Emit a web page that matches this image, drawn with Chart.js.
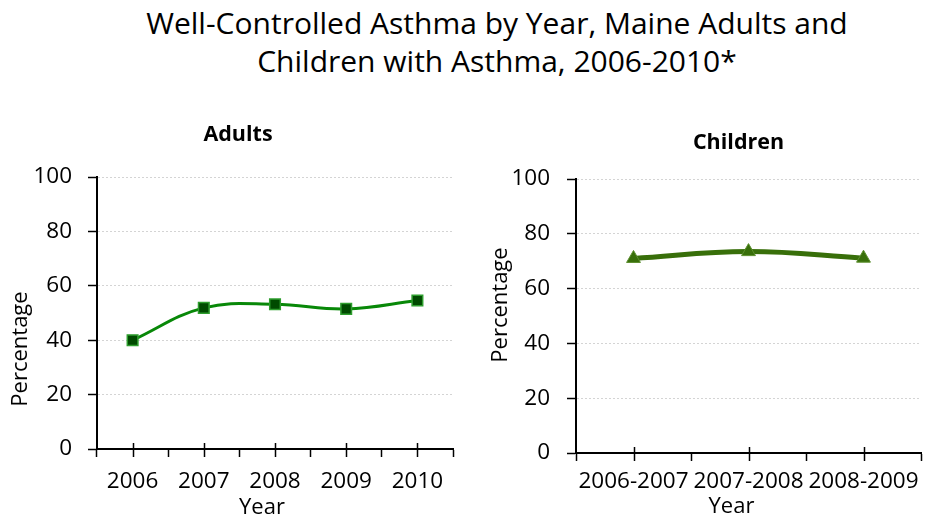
<!DOCTYPE html>
<html>
<head>
<meta charset="utf-8">
<script src="https://cdn.jsdelivr.net/npm/chart.js@4.4.1/dist/chart.umd.min.js"></script>
<style>
  html, body { margin: 0; padding: 0; background: #fff; width: 930px; height: 519px; overflow: hidden; }
  #mainTitle {
    position: absolute; left: 64px; top: 4px; width: 866px;
    text-align: center; font-family: "Open Sans", sans-serif; font-size: 30px;
    line-height: 38px; color: #000;
  }
  #adultsBox { position: absolute; left: 0; top: 100px; width: 465px; height: 419px; }
  #childrenBox { position: absolute; left: 475px; top: 100px; width: 455px; height: 419px; }
</style>
</head>
<body>
<div id="mainTitle">Well-Controlled Asthma by Year, Maine Adults and<br>Children with Asthma, 2006-2010*</div>
<div id="adultsBox"><canvas id="adults" width="465" height="419"></canvas></div>
<div id="childrenBox"><canvas id="children" width="455" height="419"></canvas></div>
<script>
// Survey years and share (%) of adults whose asthma is well controlled
const adultYears = ['2006', '2007', '2008', '2009', '2010'];
const adultPct = [40.0, 51.9, 53.2, 51.5, 54.6];

// Two-year survey periods and share (%) of children whose asthma is well controlled
const childPeriods = ['2006-2007', '2007-2008', '2008-2009'];
const childPct = [71.0, 73.5, 71.1];

// Percentage axis
const pctMin = 0;
const pctMax = 100;
const pctStep = 20;

const FONT = '"Open Sans", sans-serif';
const TICK_SIZE = 22.5;

// Panel heading and axis captions, placed relative to the plot area
const panelText = {
  id: 'panelText',
  afterDraw(chart, args, o) {
    const { ctx, chartArea: a } = chart;
    const cx = (a.left + a.right) / 2;
    const cy = (a.top + a.bottom) / 2;
    ctx.save();
    ctx.fillStyle = '#000';
    ctx.textAlign = 'center';
    ctx.textBaseline = 'middle';
    ctx.font = 'bold ' + o.titleSize + 'px ' + FONT;
    ctx.fillText(o.title, cx + o.titleDx, a.top + o.titleDy);
    ctx.font = o.axisSize + 'px ' + FONT;
    ctx.fillText(o.xTitle, cx + o.xDx, a.bottom + o.xDy);
    ctx.translate(a.left + o.yDx, cy + o.yDy);
    ctx.rotate(-Math.PI / 2);
    ctx.fillText(o.yTitle, 0, 0);
    ctx.restore();
  }
};

// Tick marks crossing the category axis at each category centre
const centerTicks = {
  id: 'centerTicks',
  afterDraw(chart) {
    const xs = chart.scales.x;
    const ctx = chart.ctx;
    const y0 = xs.top;
    ctx.save();
    ctx.strokeStyle = '#000';
    ctx.lineWidth = 1.5;
    ctx.beginPath();
    for (let i = 0; i < xs.ticks.length; i++) {
      const px = Math.round(xs.getPixelForTick(i)) + 0.5;
      ctx.moveTo(px, y0 - 6);
      ctx.lineTo(px, y0 + 8);
    }
    ctx.stroke();
    ctx.restore();
  }
};

function makeOptions(cfg) {
  return {
    responsive: false,
    animation: false,
    layout: { padding: { top: cfg.top, right: cfg.right, left: 0, bottom: 0 } },
    plugins: {
      legend: { display: false },
      tooltip: { enabled: false },
      title: { display: false },
      panelText: cfg.text
    },
    scales: {
      x: {
        type: 'category',
        offset: true,
        afterFit: (s) => { s.height = cfg.xHeight; },
        grid: { display: true, drawOnChartArea: false, offset: true, tickLength: 8, tickColor: '#000', tickWidth: 1.5 },
        border: { display: true, color: '#000', width: 2 },
        ticks: { color: '#000', padding: cfg.xPad, maxRotation: 0, autoSkip: false, font: { family: FONT, size: TICK_SIZE } }
      },
      y: {
        min: pctMin,
        max: pctMax,
        afterFit: (s) => { s.width = cfg.yWidth; },
        grid: { color: '#d4d4d4', lineWidth: 1, tickLength: 9, tickColor: '#000', tickWidth: 1.5 },
        border: { display: true, color: '#000', width: 2, dash: [2, 2] },
        ticks: { stepSize: pctStep, color: '#000', padding: cfg.yPad, font: { family: FONT, size: TICK_SIZE } }
      }
    }
  };
}

new Chart(document.getElementById('adults'), {
  type: 'line',
  data: {
    labels: adultYears,
    datasets: [{
      data: adultPct,
      borderColor: '#088808',
      borderWidth: 3,
      tension: 0.4,
      pointStyle: 'rect',
      pointRadius: 7.5,
      pointBackgroundColor: '#004a00',
      pointBorderColor: '#2e9e2e',
      pointBorderWidth: 1.5
    }]
  },
  options: makeOptions({
    top: 77, right: 12, xHeight: 70, yWidth: 97, xPad: 11, yPad: 16,
    text: { title: 'Adults', titleSize: 21.5, titleDx: -37, titleDy: -42,
            axisSize: 22, xTitle: 'Year', xDx: -13, xDy: 59,
            yTitle: 'Percentage', yDx: -76, yDy: 36 }
  }),
  plugins: [panelText, centerTicks]
});

new Chart(document.getElementById('children'), {
  type: 'line',
  data: {
    labels: childPeriods,
    datasets: [{
      data: childPct,
      borderColor: '#386f0a',
      borderWidth: 5,
      tension: 0.4,
      pointStyle: 'triangle',
      pointRadius: 8,
      pointBackgroundColor: '#386f0a',
      pointBorderColor: '#5c8f2e',
      pointBorderWidth: 1
    }]
  },
  options: makeOptions({
    top: 79, right: 1, xHeight: 66, yWidth: 101, xPad: 7, yPad: 17,
    text: { title: 'Children', titleSize: 21.5, titleDx: -10, titleDy: -36,
            axisSize: 22, xTitle: 'Year', xDx: -17, xDy: 54,
            yTitle: 'Percentage', yDx: -75, yDy: -11 }
  }),
  plugins: [panelText, centerTicks]
});
</script>
</body>
</html>
